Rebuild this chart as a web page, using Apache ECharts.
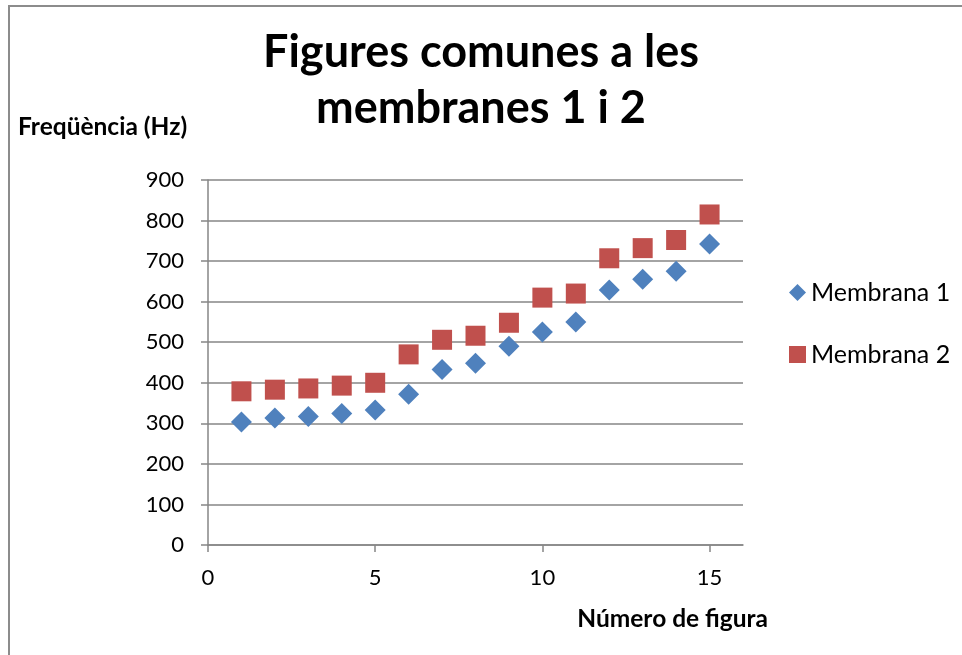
<!DOCTYPE html>
<html>
<head>
<meta charset="utf-8">
<script src="https://cdn.jsdelivr.net/npm/echarts@6/dist/echarts.min.js"></script>
<style>
  html, body { margin: 0; padding: 0; background: #fff; }
  #frame {
    position: absolute; left: 8px; top: 5px; width: 954px; height: 650px;
    border-left: 2px solid #8c8c8c; border-top: 2px solid #8c8c8c;
  }
  #chart { position: absolute; left: 0; top: 0; width: 962px; height: 655px; }
</style>
</head>
<body>
<div id="frame"></div>
<div id="chart"></div>
<script>
// número de figura (x) i freqüències llegides del gràfic
const figures = [1, 2, 3, 4, 5, 6, 7, 8, 9, 10, 11, 12, 13, 14, 15];
const membrana1 = [303, 313, 317, 324, 333, 372, 433, 448, 490, 525, 550, 629, 655, 675, 742];
const membrana2 = [379, 383, 386, 393, 400, 470, 506, 516, 548, 610, 620, 707, 732, 752, 815];
const xTicks = [0, 5, 10, 15];
const seriesNames = ["Membrana 1", "Membrana 2"];

const FONT = "Lato, 'Open Sans', sans-serif";
const GRAY = "#868686";

function pairs(xs, ys) {
  let out = [];
  for (let i = 0; i < xs.length; i++) {
    out.push([xs[i], ys[i]]);
  }
  return out;
}

let chart = echarts.init(document.getElementById("chart"), null, { renderer: "canvas" });

let option = {
  animation: false,
  backgroundColor: "transparent",
  title: [
    {
      text: "Figures comunes a les\nmembranes 1 i 2",
      left: "center",
      top: 24,
      padding: 0,
      textStyle: { fontFamily: FONT, fontWeight: "bold", fontSize: 45, lineHeight: 56, color: "#000" },
    },
    {
      text: "Freqüència (Hz)",
      left: 18,
      top: 115,
      padding: 0,
      textStyle: { fontFamily: FONT, fontWeight: "bold", fontSize: 24.5, color: "#000" },
    },
    {
      text: "Número de figura",
      right: 194,
      top: 607,
      padding: 0,
      textStyle: { fontFamily: FONT, fontWeight: "bold", fontSize: 24.5, color: "#000" },
    },
  ],
  legend: {
    orient: "vertical",
    left: 789,
    top: 280,
    itemWidth: 17,
    itemHeight: 17,
    itemGap: 37,
    padding: 0,
    textStyle: { fontFamily: FONT, fontSize: 25, color: "#000" },
    data: seriesNames,
  },
  grid: { left: 208, right: 219, top: 180, bottom: 110 },
  xAxis: {
    type: "value",
    min: 0,
    max: 16,
    interval: 5,
    axisLine: { show: true, lineStyle: { color: GRAY, width: 1.5 } },
    axisTick: { show: true, length: 7, lineStyle: { color: GRAY, width: 1.5 }, customValues: xTicks },
    axisLabel: { fontFamily: FONT, fontSize: 22, color: "#000", margin: 22, customValues: xTicks },
    splitLine: { show: false },
  },
  yAxis: {
    type: "value",
    min: 0,
    max: 900,
    interval: 100,
    axisLine: { show: true, lineStyle: { color: GRAY, width: 1.5 } },
    axisTick: { show: true, length: 7, lineStyle: { color: GRAY, width: 1.5 } },
    axisLabel: { fontFamily: FONT, fontSize: 22, color: "#000", margin: 24 },
    splitLine: { show: true, lineStyle: { color: GRAY, width: 1.5 } },
  },
  series: [
    {
      name: seriesNames[0],
      type: "scatter",
      symbol: "diamond",
      symbolSize: 21,
      itemStyle: { color: "#4F81BD", opacity: 1 },
      data: pairs(figures, membrana1),
    },
    {
      name: seriesNames[1],
      type: "scatter",
      symbol: "rect",
      symbolSize: 20,
      itemStyle: { color: "#C0504D", opacity: 1 },
      data: pairs(figures, membrana2),
    },
  ],
};

chart.setOption(option);
</script>
</body>
</html>
